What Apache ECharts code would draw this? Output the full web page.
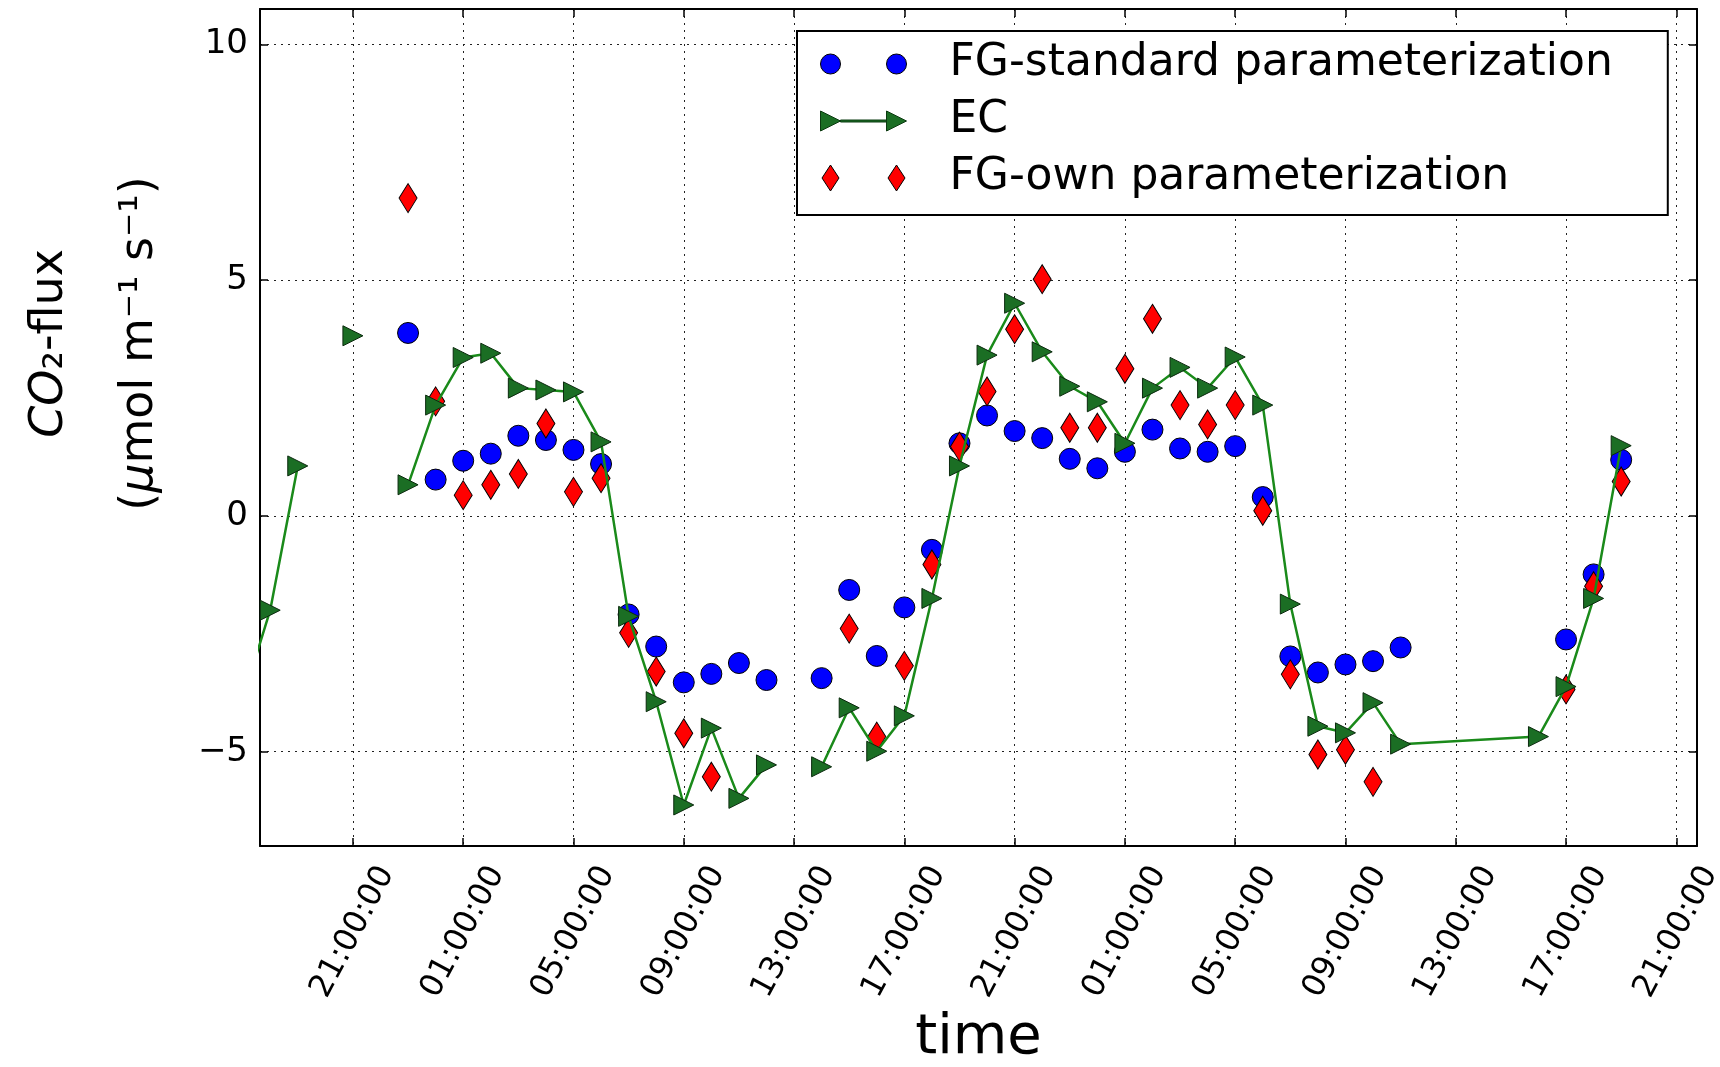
<!DOCTYPE html>
<html><head><meta charset="utf-8">
<script src="https://cdn.jsdelivr.net/npm/echarts@6/dist/echarts.min.js"></script>
<style>html,body{margin:0;padding:0;background:#fff}#c{width:1720px;height:1067px}</style>
</head><body><div id="c"></div>
<script>
// Time in hours from 00:00 of the first day
const ecHours  = [17, 18, 19, 20, 21, 22, 23, 24, 25, 26, 27, 28, 29, 30, 31, 32, 33, 34, 35, 36, 37, 38, 39, 40, 41, 42, 43, 44, 45, 46, 47, 48, 49, 50, 51, 52, 53, 54, 55, 56, 57, 58, 59, 64, 65, 66, 67];
const ecValues = [-3.9, -2.0, 1.06, null, 3.82, null, 0.66, 2.35, 3.36, 3.45, 2.71, 2.67, 2.63, 1.57, -2.13, -3.94, -6.13, -4.50, -5.99, -5.28, null, -5.32, -4.07, -4.99, -4.24, -1.75, 1.06, 3.41, 4.51, 3.48, 2.75, 2.42, 1.54, 2.71, 3.15, 2.71, 3.37, 2.35, -1.87, -4.46, -4.60, -3.96, -4.84, -4.68, -3.62, -1.75, 1.49];

const stdHours  = [23, 24, 25, 26, 27, 28, 29, 30, 31, 32, 33, 34, 35, 36, 38, 39, 40, 41, 42, 43, 44, 45, 46, 47, 48, 49, 50, 51, 52, 53, 54, 55, 56, 57, 58, 59, 65, 66, 67];
const stdValues = [3.88, 0.77, 1.17, 1.32, 1.70, 1.61, 1.40, 1.10, -2.09, -2.77, -3.53, -3.35, -3.12, -3.48, -3.44, -1.57, -2.97, -1.94, -0.72, 1.54, 2.13, 1.80, 1.65, 1.21, 1.01, 1.36, 1.83, 1.43, 1.36, 1.48, 0.40, -2.98, -3.32, -3.15, -3.08, -2.79, -2.62, -1.24, 1.19];

const ownHours  = [23, 24, 25, 26, 27, 28, 29, 30, 31, 32, 33, 34, 39, 40, 41, 42, 43, 44, 45, 46, 47, 48, 49, 50, 51, 52, 53, 54, 55, 56, 57, 58, 65, 66, 67];
const ownValues = [6.74, 2.43, 0.44, 0.66, 0.89, 1.96, 0.51, 0.80, -2.48, -3.30, -4.61, -5.53, -2.39, -4.68, -3.18, -1.03, 1.47, 2.64, 3.96, 5.02, 1.87, 1.87, 3.12, 4.18, 2.35, 1.94, 2.35, 0.11, -3.36, -5.06, -4.96, -5.64, -3.68, -1.49, 0.73];

const xTickHours  = [21, 25, 29, 33, 37, 41, 45, 49, 53, 57, 61, 65, 69];
const xTickLabels = ['21:00:00', '01:00:00', '05:00:00', '09:00:00', '13:00:00', '17:00:00', '21:00:00', '01:00:00', '05:00:00', '09:00:00', '13:00:00', '17:00:00', '21:00:00'];
const yTickValues = [-5, 0, 5, 10];

const seriesNames = ['FG-standard parameterization', 'EC', 'FG-own parameterization'];

const FONT = 'DejaVu Sans';
const TRI = 'path://M0,0 L10,5 L0,10 Z';

const pairs = (xs, ys) => xs.map((x, i) => [x, ys[i] === null ? '-' : ys[i]]);

const chart = echarts.init(document.getElementById('c'), null, {renderer: 'canvas'});

const gridLine = {show: true, lineStyle: {color: '#222', width: 1, type: [2, 5]}};

chart.setOption({
  animation: false,
  backgroundColor: '#fff',
  textStyle: {fontFamily: FONT},
  grid: {left: 260, right: 23, top: 9, bottom: 221, containLabel: false, outerBoundsMode: 'none'},
  legend: {
    orient: 'vertical', left: 797, top: 31,
    padding: [11, 55, 15, 23],
    itemWidth: 86, itemHeight: 26, itemGap: 13,
    borderColor: '#000', borderWidth: 2, backgroundColor: '#fff',
    selectedMode: false,
    textStyle: {fontSize: 44, color: '#000', fontFamily: FONT, padding: [0, 0, 0, 38], lineHeight: 44},
    data: [
      {name: seriesNames[0], icon: 'path://M0,10 a10,10 0 1,0 20,0 a10,10 0 1,0 -20,0 Z M66,10 a10,10 0 1,0 20,0 a10,10 0 1,0 -20,0 Z',
       itemStyle: {color: '#0000ff', borderColor: '#000', borderWidth: 1}},
      {name: seriesNames[1], icon: 'path://M0,0 L20,10 L0,20 Z M20,9 L66,9 L66,11 L20,11 Z M66,0 L86,10 L66,20 Z',
       itemStyle: {color: '#1b6e24', borderColor: '#0b3a10', borderWidth: 1}},
      {name: seriesNames[2], icon: 'path://M10,0 L18.5,13 L10,26 L1.5,13 Z M76,0 L84.5,13 L76,26 L67.5,13 Z',
       itemStyle: {color: '#ff0000', borderColor: '#000', borderWidth: 1}}
    ]
  },
  xAxis: [{
    type: 'value', min: 17.63, max: 69.75,
    name: 'time', nameLocation: 'middle', nameGap: 161,
    nameTextStyle: {fontSize: 56, color: '#000', fontFamily: FONT},
    axisLine: {onZero: false, lineStyle: {color: '#000', width: 2}},
    axisTick: {inside: true, length: 8, customValues: xTickHours, lineStyle: {color: '#000', width: 1.5}},
    axisLabel: {
      customValues: xTickHours, rotate: 62, align: 'center', verticalAlign: 'middle', margin: 86,
      fontSize: 32, color: '#000', fontFamily: FONT,
      formatter: v => xTickLabels[xTickHours.indexOf(v)]
    },
    splitLine: gridLine
  }, {
    type: 'value', min: 17.63, max: 69.75, position: 'top',
    axisLine: {onZero: false, lineStyle: {color: '#000', width: 2}},
    axisTick: {inside: true, length: 8, customValues: xTickHours, lineStyle: {color: '#000', width: 1.5}},
    axisLabel: {show: false},
    splitLine: {show: false}
  }],
  yAxis: [{
    type: 'value', min: -7, max: 10.75,
    name: '{it|CO}{n|₂-flux}\n{n|(}{it|μ}{n|mol m⁻¹ s⁻¹)}',
    nameLocation: 'middle', nameRotate: 90, nameGap: 75,
    nameTextStyle: {
      fontSize: 46, color: '#000', fontFamily: FONT, lineHeight: 90, padding: [0, 0, 0, 168],
      rich: {
        it: {fontSize: 46, fontStyle: 'italic', fontFamily: FONT, color: '#000', lineHeight: 90},
        n: {fontSize: 46, fontFamily: FONT, color: '#000', lineHeight: 90}
      }
    },
    axisLine: {onZero: false, lineStyle: {color: '#000', width: 2}},
    axisTick: {inside: true, length: 8, customValues: yTickValues, lineStyle: {color: '#000', width: 1.5}},
    axisLabel: {
      customValues: yTickValues, margin: 12, fontSize: 34, color: '#000', fontFamily: FONT,
      formatter: v => (v < 0 ? '\u2212' + Math.abs(v) : String(v))
    },
    splitLine: gridLine
  }, {
    type: 'value', min: -7, max: 10.75, position: 'right',
    axisLine: {onZero: false, lineStyle: {color: '#000', width: 2}},
    axisTick: {inside: true, length: 8, customValues: yTickValues, lineStyle: {color: '#000', width: 1.5}},
    axisLabel: {show: false},
    splitLine: {show: false}
  }],
  series: [
    {
      name: seriesNames[0], type: 'scatter', xAxisIndex: 0, yAxisIndex: 0,
      symbol: 'circle', symbolSize: 21,
      itemStyle: {color: '#0000ff', borderColor: '#000', borderWidth: 1, opacity: 1},
      data: pairs(stdHours, stdValues)
    },
    {
      name: seriesNames[1], type: 'line', xAxisIndex: 0, yAxisIndex: 0,
      symbol: TRI, symbolSize: [20, 20], showAllSymbol: true, connectNulls: false,
      lineStyle: {color: '#1a8a1a', width: 2.5},
      itemStyle: {color: '#1b6e24', borderColor: '#0b2a0e', borderWidth: 1},
      data: pairs(ecHours, ecValues)
    },
    {
      name: seriesNames[2], type: 'scatter', xAxisIndex: 0, yAxisIndex: 0,
      symbol: 'diamond', symbolSize: [18, 29],
      itemStyle: {color: '#ff0000', borderColor: '#000', borderWidth: 1, opacity: 1},
      data: pairs(ownHours, ownValues)
    }
  ]
});
</script>
</body></html>
